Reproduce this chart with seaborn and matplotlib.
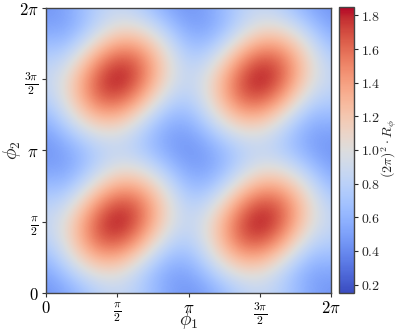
import numpy as np
import matplotlib
matplotlib.use("Agg")
import matplotlib.pyplot as plt
import seaborn as sns

# Grid of values, phi = k*pi/8, k = 0..16
# rows: phi2 from 0 (bottom) to 2pi (top); columns: phi1 from 0 to 2pi
row0 = [.45, .51, .65, .79, .85, .79, .65, .51, .45, .51, .65, .79, .85, .79, .65, .51, .45]
row1 = [.51, .66, .86, 1.00, 1.00, .85, .65, .51, .51, .66, .86, 1.00, 1.00, .85, .65, .51, .51]
row2 = [.65, .86, 1.15, 1.35, 1.35, 1.14, .85, .65, .65, .86, 1.15, 1.35, 1.35, 1.14, .85, .65, .65]
row3 = [.79, 1.00, 1.35, 1.65, 1.70, 1.50, 1.14, .85, .79, 1.00, 1.35, 1.65, 1.70, 1.50, 1.14, .85, .79]
row4 = [.85, 1.00, 1.35, 1.70, 1.85, 1.70, 1.35, 1.00, .85, 1.00, 1.35, 1.70, 1.85, 1.70, 1.35, 1.00, .85]
row5 = [.79, .85, 1.14, 1.50, 1.70, 1.65, 1.35, 1.00, .79, .85, 1.14, 1.50, 1.70, 1.65, 1.35, 1.00, .79]
row6 = [.65, .65, .85, 1.14, 1.35, 1.35, 1.15, .86, .65, .65, .85, 1.14, 1.35, 1.35, 1.15, .86, .65]
row7 = [.51, .51, .65, .85, 1.00, 1.00, .86, .66, .51, .51, .65, .85, 1.00, 1.00, .86, .66, .51]
rows = [row0, row1, row2, row3, row4, row5, row6, row7,
        row0, row1, row2, row3, row4, row5, row6, row7, row0]

tick_labels = [r"$0$", r"$\frac{\pi}{2}$", r"$\pi$", r"$\frac{3\pi}{2}$", r"$2\pi$"]
cbar_ticks = [0.2, 0.4, 0.6, 0.8, 1.0, 1.2, 1.4, 1.6, 1.8]
vmin, vmax = 0.15, 1.85

sns.set_theme(style="ticks")
plt.rcParams["mathtext.fontset"] = "cm"
plt.rcParams["font.family"] = ["DejaVu Serif"]

Z = np.array(rows)
n = Z.shape[0]
step = 2 * np.pi / (n - 1)
cmap = sns.color_palette("coolwarm", as_cmap=True)

fig = plt.figure(figsize=(3.99, 3.30), dpi=100)
ax = fig.add_axes([0.115, 0.112, 0.715, 0.864])
cax = fig.add_axes([0.850, 0.112, 0.037, 0.867])

im = ax.imshow(Z, origin="lower", cmap=cmap, vmin=vmin, vmax=vmax,
               extent=[-step / 2, 2 * np.pi + step / 2, -step / 2, 2 * np.pi + step / 2],
               interpolation="bicubic", aspect="auto")
ax.set_xlim(0, 2 * np.pi)
ax.set_ylim(0, 2 * np.pi)
ticks = [0, np.pi / 2, np.pi, 3 * np.pi / 2, 2 * np.pi]
ax.set_xticks(ticks)
ax.set_yticks(ticks)
ax.set_xticklabels(tick_labels, fontsize=12)
ax.set_yticklabels(tick_labels, fontsize=12)
ax.set_xlabel(r"$\phi_1$", fontsize=14, va="center")
ax.set_ylabel(r"$\phi_2$", fontsize=14, va="center")
ax.xaxis.set_label_coords(0.5, -(320 - 293) / 285)
ax.yaxis.set_label_coords(-(46 - 12.5) / 285, 0.5)
ax.tick_params(direction="out", length=3, width=0.8, pad=2, colors="#333333", labelcolor="black")
for s in ax.spines.values():
    s.set_color("#444444")
    s.set_linewidth(1.0)

cb = fig.colorbar(im, cax=cax)
cb.set_ticks(cbar_ticks)
cb.set_ticklabels([rf"${t:.1f}$" for t in cbar_ticks])
cb.ax.tick_params(labelsize=10, length=3, width=0.8, pad=2)
cb.outline.set_edgecolor("#444444")
cb.outline.set_linewidth(1.0)
fig.text(389 / 399, 1 - 149 / 330, r"$(2\pi)^2 \cdot R_\phi$", fontsize=10,
         rotation=90, ha="center", va="center")

fig.savefig("out.png", dpi=100)
